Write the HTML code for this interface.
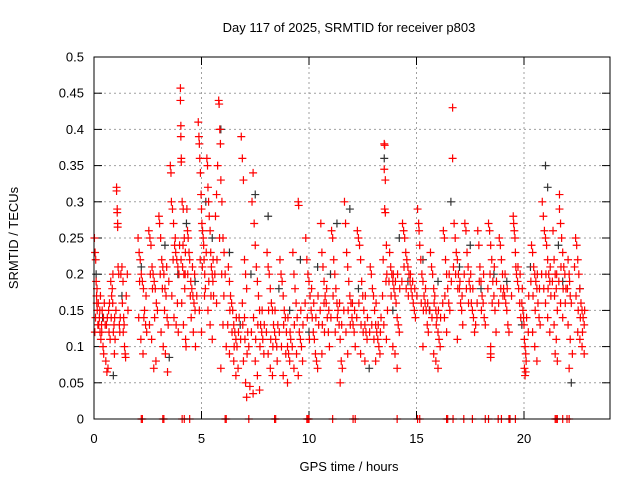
<!DOCTYPE html>
<html><head><meta charset="utf-8"><style>
html,body{margin:0;padding:0;background:#fff;}
svg{display:block;font-family:"Liberation Sans",sans-serif;}
</style></head><body>
<svg id="chart" width="640" height="480" viewBox="0 0 640 480">
<rect width="640" height="480" fill="#fff"/>
<text x="349" y="32" text-anchor="middle" font-size="13">Day 117 of 2025, SRMTID for receiver p803</text>
<text x="0" y="0" transform="translate(18,238) rotate(-90)" text-anchor="middle" font-size="13">SRMTID / TECUs</text>
<text x="349" y="471" text-anchor="middle" font-size="13">GPS time / hours</text>
<g id="grid"></g>
<g id="axes"></g>
<g id="marks"></g>
<rect x="94" y="57" width="516" height="362" fill="none" stroke="#000" stroke-width="1"/>
</svg>
<script>
const xTicks = [0, 5, 10, 15, 20];
const yTicks = [0, 0.05, 0.1, 0.15, 0.2, 0.25, 0.3, 0.35, 0.4, 0.45, 0.5];
const yTickLabels = ["0","0.05","0.1","0.15","0.2","0.25","0.3","0.35","0.4","0.45","0.5"];
const zeroTimes = [2.2,2.25,3.2,3.25,4.1,4.2,4.45,6.1,6.15,7.2,8.4,8.45,9.9,9.95,10.0,11.1,12.05,12.15,14.1,15.05,15.15,16.4,16.45,16.7,17.2,17.6,18.2,18.35,18.8,18.95,19.3,19.35,19.6,21.45,21.5,21.55,21.8,22.0,22.1];
const redPoints = [
[0.02,0.25],[0.05,0.23],[0.08,0.22],[0.1,0.19],[0.12,0.17],[0.15,0.15],[0.18,0.13],[0.04,0.12],[0.14,0.18],[0.2,0.16],
[0.25,0.14],[0.28,0.12],[0.32,0.11],[0.35,0.13],[0.38,0.15],[0.42,0.10],[0.45,0.09],[0.3,0.17],[0.48,0.16],
[0.55,0.08],[0.6,0.065],[0.65,0.07],[0.58,0.13],[0.7,0.12],[0.75,0.11],[0.62,0.14],[0.68,0.15],[0.78,0.19],
[0.82,0.17],[0.85,0.18],[0.88,0.20],[0.9,0.12],[0.93,0.13],[0.96,0.14],[0.98,0.11],[0.95,0.09],
[1.05,0.32],[1.05,0.315],[1.08,0.29],[1.08,0.285],[1.1,0.27],[1.1,0.265],[1.12,0.21],[1.15,0.20],[1.02,0.15],[1.18,0.13],[1.2,0.12],
[1.25,0.20],[1.3,0.21],[1.35,0.19],[1.38,0.14],[1.4,0.13],[1.42,0.10],[1.45,0.09],[1.47,0.085],[1.32,0.16],
[1.55,0.2],[1.5,0.17],[1.58,0.15],
[2.05,0.25],[2.1,0.23],[2.15,0.22],[2.2,0.20],[2.25,0.19],[2.3,0.18],[2.35,0.15],[2.4,0.13],[2.45,0.12],[2.08,0.14],[2.18,0.11],[2.28,0.09],
[2.55,0.26],[2.6,0.25],[2.65,0.24],[2.7,0.21],[2.75,0.20],[2.8,0.19],[2.85,0.18],[2.9,0.16],[2.95,0.15],[2.58,0.13],[2.68,0.11],[2.78,0.07],[2.88,0.08],
[3.02,0.28],[3.05,0.27],[3.1,0.25],[3.15,0.22],[3.2,0.21],[3.25,0.20],[3.3,0.18],[3.35,0.17],[3.4,0.14],[3.45,0.13],[3.12,0.12],[3.22,0.10],[3.32,0.09],[3.42,0.065],
[3.55,0.35],[3.58,0.34],[3.6,0.30],[3.65,0.29],[3.7,0.27],[3.75,0.24],[3.8,0.23],[3.85,0.22],[3.9,0.21],[3.95,0.20],[3.62,0.17],[3.72,0.14],[3.82,0.13],[3.92,0.12],
[4.02,0.457],[4.02,0.44],[4.04,0.405],[4.04,0.39],[4.06,0.36],[4.06,0.355],[4.1,0.30],[4.15,0.29],[4.2,0.25],[4.25,0.23],[4.05,0.22],[4.12,0.21],[4.18,0.20],[4.22,0.18],[4.08,0.16],[4.16,0.13],[4.26,0.11],[4.28,0.10],
[4.32,0.29],[4.35,0.26],[4.38,0.25],[4.42,0.23],[4.45,0.22],[4.5,0.19],[4.55,0.18],[4.6,0.17],[4.65,0.16],[4.7,0.15],[4.52,0.14],[4.62,0.12],[4.72,0.10],
[4.85,0.41],[4.88,0.39],[4.9,0.38],[4.92,0.36],[4.95,0.34],[4.98,0.31],[5.0,0.29],[5.02,0.27],[5.05,0.26],[5.08,0.25],[5.1,0.24],[5.12,0.22],[5.15,0.20],[5.18,0.18],[4.9,0.15],[5.0,0.12],
[5.25,0.36],[5.28,0.35],[5.3,0.32],[5.33,0.30],[5.36,0.28],[5.4,0.26],[5.43,0.23],[5.46,0.21],[5.5,0.20],[5.53,0.19],[5.56,0.17],[5.3,0.15],[5.4,0.13],[5.5,0.11],
[5.8,0.44],[5.82,0.435],[5.85,0.40],[5.88,0.38],[5.75,0.35],[5.9,0.33],[5.7,0.31],[5.95,0.30],[5.65,0.28],[6.0,0.25],[6.05,0.23],[6.1,0.20],[5.7,0.16],[6.0,0.13],[6.15,0.10],[5.9,0.07],
[6.25,0.21],[6.3,0.19],[6.35,0.17],[6.4,0.16],[6.45,0.15],[6.5,0.13],[6.55,0.12],[6.6,0.11],[6.65,0.10],[6.3,0.09],[6.5,0.08],[6.7,0.07],[6.6,0.06],[6.75,0.14],
[6.85,0.39],[6.9,0.36],[6.95,0.33],[7.0,0.22],[7.05,0.20],[7.1,0.18],[6.9,0.16],[7.0,0.14],[7.15,0.12],[7.2,0.10],[6.95,0.08],[7.05,0.05],[7.1,0.03],[7.25,0.045],
[7.4,0.34],[7.35,0.30],[7.45,0.27],[7.5,0.24],[7.55,0.21],[7.6,0.19],[7.65,0.17],[7.7,0.15],[7.75,0.13],[7.8,0.12],[7.85,0.11],[7.9,0.09],[7.5,0.08],[7.6,0.06],[7.7,0.04],[7.4,0.035],
[8.05,0.23],[8.1,0.21],[8.15,0.20],[8.2,0.18],[8.25,0.16],[8.3,0.15],[8.35,0.13],[8.4,0.12],[8.45,0.11],[8.5,0.10],[8.1,0.09],[8.2,0.07],[8.3,0.06],[8.55,0.13],
[8.65,0.22],[8.7,0.20],[8.75,0.19],[8.8,0.17],[8.85,0.15],[8.9,0.14],[8.95,0.12],[9.0,0.10],[9.05,0.09],[9.1,0.08],[8.8,0.06],[9.0,0.05],[9.15,0.11],
[9.5,0.30],[9.52,0.295],[9.25,0.23],[9.3,0.20],[9.35,0.18],[9.4,0.16],[9.45,0.14],[9.55,0.12],[9.6,0.11],[9.65,0.10],[9.7,0.08],[9.3,0.07],[9.5,0.06],
[9.85,0.25],[9.9,0.22],[9.95,0.20],[10.0,0.19],[10.05,0.17],[10.1,0.15],[10.15,0.14],[10.2,0.12],[10.25,0.11],[10.3,0.09],[10.35,0.08],[10.4,0.07],[10.45,0.13],
[10.55,0.27],[10.6,0.23],[10.65,0.21],[10.7,0.19],[10.75,0.17],[10.8,0.16],[10.85,0.14],[10.9,0.12],[10.95,0.10],[10.6,0.09],[10.7,0.16],
[11.05,0.26],[11.1,0.25],[11.15,0.22],[11.2,0.20],[11.25,0.18],[11.3,0.16],[11.35,0.15],[11.4,0.13],[11.45,0.11],[11.5,0.08],[11.55,0.07],[11.45,0.05],
[11.65,0.30],[11.7,0.27],[11.75,0.23],[11.8,0.21],[11.85,0.19],[11.9,0.17],[11.95,0.16],[12.0,0.14],[12.05,0.13],[12.1,0.12],[12.15,0.10],[11.8,0.09],
[12.25,0.26],[12.3,0.25],[12.35,0.24],[12.4,0.22],[12.45,0.19],[12.5,0.17],[12.55,0.15],[12.6,0.13],[12.65,0.12],[12.7,0.11],[12.4,0.09],[12.6,0.08],
[12.85,0.21],[12.9,0.20],[12.95,0.18],[13.0,0.17],[13.05,0.15],[13.1,0.13],[13.15,0.12],[13.2,0.11],[13.25,0.10],[13.3,0.09],[13.1,0.08],[13.35,0.14],
[13.5,0.38],[13.52,0.378],[13.5,0.345],[13.55,0.33],[13.52,0.29],[13.55,0.285],[13.6,0.24],[13.45,0.22],[13.62,0.20],[13.58,0.19],[13.65,0.15],[13.48,0.13],[13.6,0.11],
[13.75,0.23],[13.8,0.21],[13.85,0.20],[13.9,0.19],[13.95,0.18],[14.0,0.17],[14.05,0.16],[14.1,0.14],[14.15,0.13],[14.2,0.12],[13.9,0.10],[14.0,0.09],[14.1,0.07],
[14.35,0.27],[14.4,0.26],[14.45,0.25],[14.5,0.23],[14.55,0.22],[14.6,0.21],[14.65,0.20],[14.7,0.19],[14.75,0.18],[14.8,0.17],[14.85,0.16],[14.9,0.15],[14.95,0.14],
[15.05,0.29],[15.1,0.27],[15.12,0.26],[15.15,0.24],[15.2,0.22],[15.25,0.20],[15.3,0.19],[15.35,0.17],[15.4,0.16],[15.45,0.15],[15.5,0.13],[15.55,0.12],[15.3,0.10],
[15.65,0.23],[15.7,0.21],[15.75,0.20],[15.8,0.18],[15.85,0.17],[15.9,0.15],[15.95,0.14],[16.0,0.12],[16.05,0.11],[16.1,0.10],[15.8,0.09],[15.9,0.08],[16.0,0.07],
[16.25,0.26],[16.3,0.25],[16.35,0.22],[16.4,0.20],[16.45,0.18],[16.5,0.16],[16.55,0.15],[16.3,0.14],[16.4,0.12],
[16.68,0.43],[16.68,0.36],[16.75,0.27],[16.8,0.25],[16.85,0.23],[16.9,0.22],[16.95,0.20],[17.0,0.18],[17.05,0.16],[17.1,0.15],[17.15,0.13],[16.9,0.11],
[17.25,0.27],[17.3,0.26],[17.35,0.23],[17.4,0.21],[17.45,0.19],[17.5,0.18],[17.55,0.16],[17.6,0.15],[17.65,0.14],[17.7,0.12],[17.75,0.13],
[17.85,0.26],[17.9,0.24],[17.95,0.21],[18.0,0.19],[18.05,0.17],[18.1,0.16],[18.15,0.14],[18.2,0.13],
[18.35,0.27],[18.4,0.26],[18.45,0.24],[18.5,0.22],[18.55,0.19],[18.6,0.17],[18.65,0.15],[18.7,0.12],[18.45,0.10],[18.45,0.09],[18.45,0.085],
[18.85,0.25],[18.9,0.24],[18.95,0.22],[19.0,0.20],[19.05,0.18],[19.1,0.17],[19.15,0.16],[19.2,0.15],[19.25,0.13],[19.3,0.12],
[19.5,0.28],[19.52,0.27],[19.55,0.26],[19.58,0.25],[19.6,0.23],[19.62,0.21],[19.65,0.20],[19.7,0.19],[19.75,0.18],[19.8,0.16],[19.85,0.14],
[19.92,0.18],[19.95,0.15],[19.98,0.14],[20.0,0.13],[20.02,0.11],[20.05,0.10],[20.08,0.09],[20.1,0.08],[20.02,0.07],[20.05,0.06],[20.08,0.065],[20.2,0.12],
[20.35,0.24],[20.4,0.23],[20.45,0.21],[20.5,0.20],[20.55,0.19],[20.6,0.18],[20.65,0.16],[20.7,0.14],[20.75,0.13],[20.4,0.12],[20.5,0.10],[20.6,0.08],
[20.85,0.30],[20.9,0.28],[20.95,0.26],[21.0,0.25],[21.05,0.24],[21.1,0.22],[21.15,0.20],[21.2,0.19],[21.25,0.17],[21.0,0.16],[21.1,0.14],[21.2,0.12],
[21.35,0.26],[21.4,0.22],[21.45,0.20],[21.5,0.18],[21.55,0.15],[21.4,0.13],[21.5,0.11],[21.45,0.09],[21.55,0.08],
[21.65,0.31],[21.65,0.29],[21.7,0.27],[21.75,0.25],[21.8,0.23],[21.85,0.21],[21.9,0.20],[21.95,0.18],[21.7,0.16],[21.8,0.14],
[22.05,0.22],[22.1,0.20],[22.12,0.19],[22.15,0.17],[22.2,0.16],[22.05,0.13],[22.15,0.11],[22.25,0.09],[22.1,0.07],
[22.4,0.25],[22.45,0.24],[22.5,0.22],[22.55,0.20],[22.6,0.18],[22.65,0.16],[22.7,0.15],[22.75,0.14],[22.8,0.13],[22.5,0.12],[22.6,0.11],[22.7,0.10],[22.8,0.09]
];
const redPointsExtra = [
[0.07,0.14],[0.13,0.16],[0.22,0.13],[0.27,0.15],[0.36,0.12],[0.44,0.14],[0.52,0.13],[0.72,0.16],[0.8,0.14],[0.87,0.16],[1.22,0.14],[1.36,0.12],
[2.12,0.19],[2.32,0.14],[2.42,0.17],[2.62,0.2],[2.72,0.18],[2.82,0.14],[3.08,0.2],[3.18,0.18],[3.28,0.15],[3.38,0.21],[3.48,0.19],
[3.68,0.22],[3.78,0.25],[3.88,0.16],[3.98,0.24],[4.14,0.24],[4.24,0.20],[4.36,0.2],[4.48,0.17],[4.58,0.21],[4.68,0.2],[4.78,0.17],
[4.94,0.22],[5.04,0.21],[5.14,0.17],[5.22,0.23],[5.34,0.19],[5.44,0.17],[5.54,0.22],[5.62,0.20],[5.72,0.22],[5.84,0.25],[5.94,0.2],[6.04,0.17],
[6.22,0.13],[6.32,0.15],[6.42,0.12],[6.52,0.1],[6.62,0.14],[6.72,0.12],[6.82,0.11],[6.92,0.13],[7.02,0.11],[7.12,0.09],[7.32,0.12],[7.42,0.14],
[7.52,0.11],[7.62,0.13],[7.72,0.1],[7.82,0.15],[7.92,0.13],[8.02,0.12],[8.12,0.15],[8.22,0.11],[8.32,0.1],[8.42,0.15],[8.52,0.08],[8.62,0.12],
[8.72,0.1],[8.82,0.13],[8.92,0.09],[9.02,0.14],[9.12,0.12],[9.22,0.1],[9.32,0.13],[9.42,0.09],[9.62,0.15],[9.72,0.13],[9.82,0.16],[9.92,0.14],
[10.02,0.11],[10.12,0.18],[10.22,0.16],[10.32,0.14],[10.42,0.17],[10.52,0.15],[10.62,0.13],[10.72,0.12],[10.82,0.18],[10.92,0.15],[11.02,0.14],
[11.12,0.17],[11.22,0.12],[11.32,0.14],[11.42,0.16],[11.52,0.13],[11.62,0.15],[11.72,0.12],[11.82,0.15],[11.92,0.13],[12.02,0.16],[12.12,0.15],
[12.22,0.14],[12.32,0.16],[12.42,0.13],[12.52,0.12],[12.62,0.17],[12.72,0.14],[12.82,0.12],[12.92,0.13],[13.02,0.11],[13.12,0.16],[13.22,0.13],
[13.32,0.12],[13.42,0.17],[13.72,0.19],[13.82,0.17],[13.92,0.2],[14.02,0.19],[14.12,0.2],[14.22,0.18],[14.32,0.19],[14.42,0.21],[14.52,0.18],
[14.62,0.17],[14.72,0.2],[14.82,0.19],[14.92,0.18],[15.02,0.17],[15.22,0.16],[15.32,0.15],[15.42,0.18],[15.52,0.16],[15.62,0.15],[15.72,0.14],
[15.82,0.16],[15.92,0.13],[16.02,0.15],[16.12,0.14],[16.22,0.16],[16.32,0.17],[16.52,0.2],[16.62,0.19],[16.72,0.21],[16.82,0.2],[16.92,0.18],
[17.02,0.19],[17.12,0.17],[17.22,0.2],[17.32,0.18],[17.42,0.16],[17.52,0.2],[17.62,0.18],[17.82,0.16],[17.92,0.19],[18.02,0.15],[18.12,0.2],
[18.32,0.18],[18.42,0.2],[18.52,0.16],[18.62,0.21],[18.72,0.19],[18.82,0.16],[18.92,0.18],[19.02,0.17],[19.12,0.2],[19.22,0.18],[19.42,0.17],
[19.72,0.21],[19.82,0.2],[19.9,0.16],[20.12,0.14],[20.22,0.17],[20.32,0.19],[20.42,0.17],[20.52,0.15],[20.62,0.2],[20.72,0.18],[20.82,0.2],
[20.92,0.18],[21.02,0.2],[21.12,0.18],[21.22,0.21],[21.32,0.19],[21.42,0.17],[21.52,0.2],[21.62,0.19],[21.72,0.21],[21.82,0.18],[21.92,0.16],
[22.02,0.18],[22.42,0.17],[22.52,0.15],[22.62,0.14],[22.72,0.12],[22.82,0.15],[22.35,0.21]
];
const blackPoints = [
[0.1,0.2],[0.4,0.14],[0.9,0.06],[1.3,0.17],[2.2,0.21],[3.3,0.24],[3.5,0.085],[3.9,0.2],[4.3,0.27],[4.7,0.19],[5.2,0.3],[5.5,0.25],[5.9,0.40],[6.3,0.23],[6.8,0.13],[7.3,0.2],[7.5,0.31],[8.1,0.28],[8.6,0.18],[9.1,0.15],[9.6,0.22],[10.0,0.12],[10.4,0.21],[11.0,0.2],[11.3,0.27],[11.9,0.29],[12.3,0.18],[12.8,0.07],[13.5,0.36],[13.9,0.15],[14.2,0.25],[14.6,0.19],[15.3,0.22],[15.6,0.15],[16.0,0.19],[16.6,0.3],[17.0,0.21],[17.5,0.24],[18.0,0.18],[18.6,0.2],[19.2,0.19],[19.9,0.13],[20.3,0.21],[21.0,0.35],[21.1,0.32],[21.6,0.24],[21.8,0.19],[22.2,0.05],[22.6,0.18]
];
const svgNS = "http://www.w3.org/2000/svg";
const X0 = 94, X1 = 610, Y0 = 419, Y1 = 57, XMAX = 24, YMAX = 0.5;
function xs(t){ return X0 + t / XMAX * (X1 - X0); }
function ys(v){ return Y0 - v / YMAX * (Y0 - Y1); }
function mk(tag, attrs, parent){ const e = document.createElementNS(svgNS, tag); for (const k in attrs) e.setAttribute(k, attrs[k]); parent.appendChild(e); return e; }
const grid = document.getElementById('grid'), axes = document.getElementById('axes'), marks = document.getElementById('marks');
yTicks.forEach((v, i) => {
  const y = ys(v);
  if (v > 0 && v < YMAX) {
    const g = mk('line', {x1: X0, x2: X1, y1: y, y2: y, stroke: '#a0a0a0', 'stroke-dasharray': '2,3', 'stroke-width': 1}, grid);
    
    
  }
  const t1 = mk('line', {x1: X0, x2: X0 + 8, y1: y, y2: y, stroke: '#000'}, axes);
  
  
  const t2 = mk('line', {x1: X1 - 8, x2: X1, y1: y, y2: y, stroke: '#000'}, axes);
  
  
  const lb = mk('text', {x: X0 - 10, y: y + 4.5, 'text-anchor': 'end', 'font-size': 13}, axes);
  lb.textContent = yTickLabels[i];
  
  
});
xTicks.forEach(t => {
  const x = xs(t);
  if (t > 0) {
    const g = mk('line', {x1: x, x2: x, y1: Y0, y2: Y1, stroke: '#a0a0a0', 'stroke-dasharray': '2,3', 'stroke-width': 1}, grid);
    
    
  }
  const t1 = mk('line', {x1: x, x2: x, y1: Y0, y2: Y0 - 8, stroke: '#000'}, axes);
  
  
  const t2 = mk('line', {x1: x, x2: x, y1: Y1, y2: Y1 + 8, stroke: '#000'}, axes);
  
  
  const lb = mk('text', {x: x, y: 443, 'text-anchor': 'middle', 'font-size': 13}, axes);
  lb.textContent = String(t);
  
  
});
function plus(t, v, color, name){
  const x = xs(t), y = ys(v);
  const p = mk('path', {d: 'M' + (x - 4) + ' ' + y + 'H' + (x + 4) + 'M' + x + ' ' + (y - 4) + 'V' + (y + 4), stroke: color, 'stroke-width': 1.2, fill: 'none'}, marks);
  
  
}
blackPoints.forEach(p => plus(p[0], p[1], '#333', 'black-point'));
redPoints.forEach(p => plus(p[0], p[1], '#ff0000', 'red-point'));
redPointsExtra.forEach(p => plus(p[0], p[1], '#ff0000', 'red-point'));
zeroTimes.forEach(t => plus(t, 0, '#ff0000', 'zero-point'));
</script>
</body></html>
